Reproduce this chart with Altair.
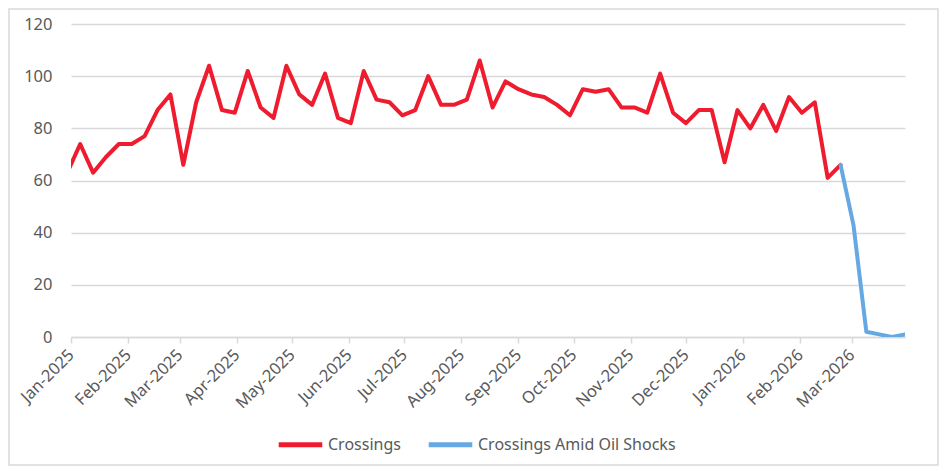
import altair as alt
import pandas as pd

# Weekly (Monday) observations
crossings_dates = pd.date_range("2024-12-30", "2026-02-23", freq="7D").strftime("%Y-%m-%d").tolist()
crossings_values = [
    63, 74, 63, 69, 74, 74, 77, 87, 93, 66, 90, 104, 87, 86, 102, 88, 84, 104,
    93, 89, 101, 84, 82, 102, 91, 90, 85, 87, 100, 89, 89, 91, 106, 88, 98, 95,
    93, 92, 89, 85, 95, 94, 95, 88, 88, 86, 101, 86, 82, 87, 87, 67, 87, 80,
    89, 79, 92, 86, 90, 61, 66,
]
shock_dates = ["2026-02-23", "2026-03-02", "2026-03-09", "2026-03-16", "2026-03-23", "2026-03-30"]
shock_values = [66, 43, 2, 1, 0, 1]

series_names = ["Crossings", "Crossings Amid Oil Shocks"]
series_colors = ["#EE1C2E", "#66A9E2"]

month_ticks = [(2025, m) for m in range(1, 13)] + [(2026, 1), (2026, 2), (2026, 3)]
y_ticks = [0, 20, 40, 60, 80, 100, 120]

df = pd.concat([
    pd.DataFrame({"date": crossings_dates, "value": crossings_values, "series": series_names[0]}),
    pd.DataFrame({"date": shock_dates, "value": shock_values, "series": series_names[1]}),
])

FONT = "Noto Sans"
GREY_TXT = "#595959"
GRID = "#D9D9D9"

W, H = 834, 313
PAD = {"left": 63, "top": 16, "right": 34, "bottom": 129}

x_enc = alt.X(
    "date:T",
    scale=alt.Scale(
        type="utc",
        domain=[alt.DateTime(year=2025, month=1, date=1, utc=True),
                alt.DateTime(year=2026, month=3, date=30, utc=True)],
        nice=False,
    ),
    axis=alt.Axis(
        values=[alt.DateTime(year=y, month=m, date=1, utc=True) for y, m in month_ticks],
        labelExpr="utcFormat(datum.value, '%b-%Y')", labelAngle=-45,
        labelAlign="right", labelBaseline="middle",
        labelFont=FONT, labelFontSize=16.5, labelColor=GREY_TXT,
        domainColor=GRID, domainWidth=1.5, tickColor=GRID, tickSize=6, tickWidth=1.5,
        grid=False, title=None, labelPadding=9, labelOverlap=False,
    ),
)
y_enc = alt.Y(
    "value:Q",
    scale=alt.Scale(domain=[0, 120], nice=False),
    axis=alt.Axis(
        values=y_ticks, labelFont=FONT, labelFontSize=16.5, labelColor=GREY_TXT,
        domain=False, ticks=False, labelPadding=19, gridColor=GRID, gridWidth=1.5,
        title=None,
    ),
)

border = alt.Chart(pd.DataFrame({"a": [0]})).mark_rect(
    fill=None, stroke=GRID, strokeWidth=1.5, clip=False
).encode(
    x=alt.value(-PAD["left"] + 1), x2=alt.value(W + PAD["right"] - 1),
    y=alt.value(-PAD["top"] + 1), y2=alt.value(H + PAD["bottom"] - 1),
)

color_scale = alt.Scale(domain=series_names, range=series_colors)

red = alt.Chart(df[df.series == series_names[0]]).mark_line(
    strokeWidth=4, strokeJoin="round", strokeCap="round", clip=True
).encode(
    x=x_enc, y=y_enc,
    color=alt.Color("series:N", scale=color_scale, legend=alt.Legend(
        orient="none", legendX=205, legendY=396, direction="horizontal",
        title=None, symbolType="stroke", symbolSize=1900, symbolStrokeWidth=5,
        labelFont=FONT, labelFontSize=16, labelColor=GREY_TXT, columnPadding=17,
        labelOffset=3, labelLimit=400,
    )),
)
blue = alt.Chart(df[df.series == series_names[1]]).mark_line(
    strokeWidth=4, strokeJoin="round", strokeCap="round", clip=True,
).encode(x=x_enc, y=y_enc, color=alt.Color("series:N", scale=color_scale))

chart = alt.layer(border, red, blue).properties(
    width=W, height=H, padding=PAD, autosize=alt.AutoSizeParams(type="none"),
    background="white",
).configure_view(stroke=None)

chart.save("out.html", embed_options={"renderer": "svg", "actions": False})
